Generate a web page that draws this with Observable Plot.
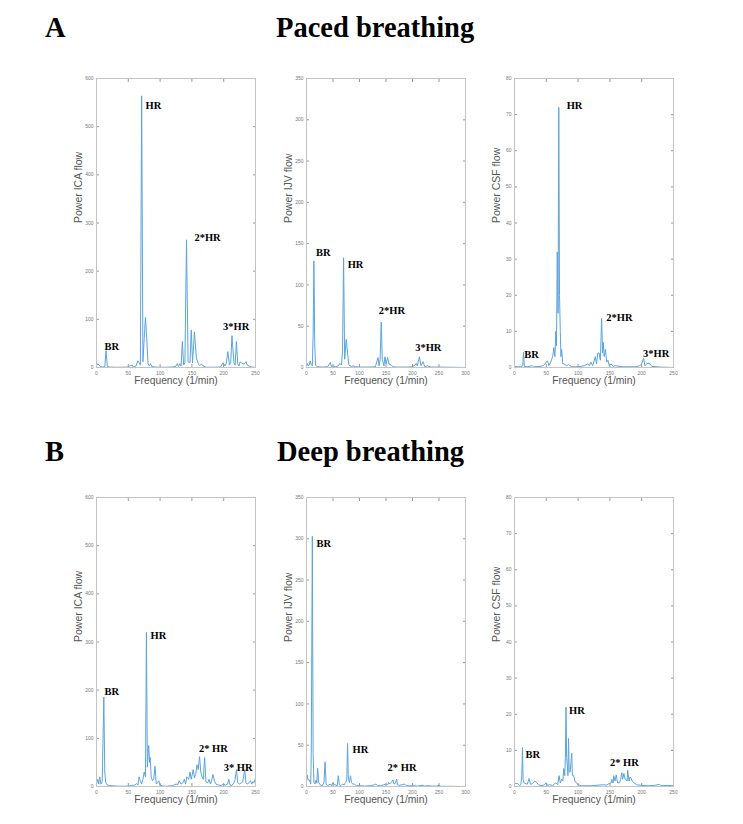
<!DOCTYPE html>
<html><head><meta charset="utf-8">
<script src="https://cdn.jsdelivr.net/npm/d3@7"></script>
<script src="https://cdn.jsdelivr.net/npm/@observablehq/plot@0.6"></script>
<style>
body{margin:0;background:#fff}
#root{position:relative;width:743px;height:824px;background:#fff;overflow:hidden}
.t{position:absolute;font-family:"Liberation Serif","Times New Roman",serif;font-weight:bold;font-size:28.5px;color:#000;white-space:nowrap;line-height:1}
.p{position:absolute}
</style></head><body><div id="root"></div>
<script>
// ---------- titles ----------
const rowLetters = ["A", "B"];
const rowTitles = ["Paced breathing", "Deep breathing"];

// ---------- axis settings ----------
const yLabels = ["Power ICA flow", "Power IJV flow", "Power CSF flow"];
const xLabel = "Frequency (1/min)";
const xTicks250 = [0, 50, 100, 150, 200, 250];
const xTicks300 = [0, 50, 100, 150, 200, 250, 300];
const yTicksICA = [0, 100, 200, 300, 400, 500, 600];
const yTicksIJV = [0, 50, 100, 150, 200, 250, 300, 350];
const yTicksCSF = [0, 10, 20, 30, 40, 50, 60, 70, 80];

// ---------- A: paced breathing ----------
const icaPacedFreq  = [0,2,4,6,10,13,15,17,20,30,40,50,53,56,58,62,65,67,69,71,73,75,77,79,81,83,85,87,95,110,120,125,127,129,131,133,135,137,139,141.5,144,147,149,151,154,157,160,162,165,168,172,185,195,199,202,204,206.5,209,211,213,216,218,220,222,224,226,229,232,235,237,240,244,250];
const icaPacedPower = [3,8,5,2,1,2,35,2,1,0.5,0.5,1,4,5,1,3,14,10,5,564,12,60,104,60,8,3,8,2,0.5,0.5,1,3,8,2,8,3,54,5,10,265,12,10,78,10,74,20,8,4,7,3,0.5,0.5,1,10,3,8,33,5,10,66,10,5,54,8,3,12,8,7,12,5,3,1,0];

const ijvPacedFreq  = [0,1,3,5,7,9,11,12.5,14,15.5,17,20,30,40,45,47,50,55,60,63,66,68,70,72,75,78,80,85,88,92,100,120,130,135,137,139,141,143,146,148,150,153,156,160,163,170,190,200,205,207,209,213,216,220,223,228,235,250,270,300];
const ijvPacedPower = [0,5,2,3,8,3,2,40,129,30,3,1,0.5,1,6,1,2,1,2,5,3,20,133,10,34,15,3,1,2,1,0.5,0.5,1,12,2,10,55,10,2,13,4,12,4,3,1,0.5,0.5,1,3,5,2,13,2,7,1,2,0.5,0.5,0.3,0];

const csfPacedFreq  = [0,5,10,13,14.2,15.5,20,28,30,40,45,48,50,52,54,57,60,62,63.5,65,66,67.2,68.5,69.6,70.8,72,73,74,76,78,82,85,90,100,110,115,118,120,123,127,129,131,133,135,137,138.5,139.5,141,143,145,147,149,152,155,158,170,190,197,200,203,205,208,210,213,216,230,250];
const csfPacedPower = [0.3,0.2,0.2,0.5,4.2,0.3,0.2,0.5,0.2,0.3,0.5,1,1.6,1.8,0.5,1.5,3,5.5,3,10,6,32,15,72,20,10,3,5,1,1,0.5,0.8,0.2,0.2,0.5,1,0.5,1.5,0.5,3,1,4,4,2,13.6,4,7,3,5,1.5,2,0.5,1,0.3,0.5,0.2,0.2,0.5,1,2.6,0.5,1,1.2,1,0.3,0.1,0];

// ---------- B: deep breathing ----------
const icaDeepFreq  = [0,2,3.5,5,7,9,11.5,13,14.5,17,20,30,40,50,55,60,63,65,67,69,71,73,75,77,78.5,80,82,83.5,84.5,86,88,90,92,94,96,98,100,104,110,120,125,128,130,133,136,138,140,142,145,147,149,152,154,156,158,160,162,164,166,168,170,172,175,177,179,181,183,186,188,192,196,200,203,206,208,210,213,216,218,220,222,225,228,230,233,235,237,240,242,244,246,248,250];
const icaDeepPower = [5,15,5,20,5,10,186,30,8,3,2,1,0.5,1,2,3,6,3,20,12,5,15,30,20,320,40,85,50,60,20,12,15,42,5,8,12,3,1,0.5,2,5,4,12,5,8,15,5,20,15,30,15,35,18,25,45,35,62,30,20,15,60,10,8,15,5,12,25,10,5,3,2,5,3,5,15,3,2,8,15,35,8,5,8,10,35,8,5,8,12,5,10,8,18];

const ijvDeepFreq  = [0,1,3,5,7,8,9,11,12.5,14,16,18,19.5,21,23,26,30,33,35,37,40,45,47,50,52,55,58,60,62,65,68,71,74,76,77.5,79,81,83,85,87,90,94,100,110,120,128,131,134,140,145,150,153,155,157,160,163,165,168,170,172,175,180,185,188,195,200,210,218,222,232,235,245,250,253,270,300];
const ijvDeepPower = [5,14,8,8,5,3,40,303,40,5,3,8,4,22,5,2,1,5,30,3,1,3,1,5,2,2,1,13,2,1,3,2,5,8,52,10,5,13,5,3,3,1,1,0.5,1,2,3,1,1,2,3,2,5,3,5,8,3,4,9,2,1.5,2,3,1,1,1,0.5,1.5,0.5,1,0.5,0.5,1.5,0.3,0.2,0];

const csfDeepFreq  = [0,2,5,8,10,11.5,12.5,13.5,15,18,20,23,25,28,32,35,38,40,45,50,52,55,60,65,68,70,72,74,76,77.5,79,80,81,82,83,84,85,86,87.5,89,90,91,93,95,97,100,105,120,140,145,150,152,153,155,156,158,160,162,165,167,168,169,170,172,174,175,177,178,180,181,183,185,188,192,200,210,220,228,230,240,250];
const csfDeepPower = [1,0.8,0.8,0.3,0.5,3,10.8,2,1,0.8,0.6,2.2,0.6,0.8,1.5,1,0.5,0.3,0.3,1,0.3,0.5,0.3,1,0.5,3,1,2,1.5,5,3,8,22,8,6,3,13.3,4,4,7,9.2,3,3,1.5,1,0.5,0.2,0.2,0.5,0.4,1,1,2,1,3,1.5,3.2,1,1,2,3.5,3.8,2,3.6,2,2,1.5,4.5,1.5,2.5,2.5,1.5,1,0.5,0.3,0.2,0.3,0.6,0.2,0.3,0.2];

// ---------- peak annotations (label, freq, power) ----------
const icaPacedNotes = {text: ["BR", "HR", "2*HR", "3*HR"], x: [12.6, 77, 154, 199], y: [44, 544, 270, 85]};
const ijvPacedNotes = {text: ["BR", "HR", "2*HR", "3*HR"], x: [17.7, 77.7, 136.5, 205], y: [139.6, 125, 69, 24]};
const csfPacedNotes = {text: ["BR", "HR", "2*HR", "3*HR"], x: [15.2, 82, 144.4, 202], y: [3.5, 72.4, 13.7, 3.9]};
const icaDeepNotes  = {text: ["BR", "HR", "2* HR", "3* HR"], x: [12.6, 85, 161, 200], y: [197.7, 313.5, 77.7, 40]};
const ijvDeepNotes  = {text: ["BR", "HR", "2* HR"], x: [19, 87, 153], y: [294.6, 45, 23]};
const csfDeepNotes  = {text: ["BR", "HR", "2* HR"], x: [17.4, 85.8, 150], y: [8.9, 21, 6.6]};

// ---------- layout ----------
const M = {left: 36, right: 10, top: 8, bottom: 32};
const FW = 159, FH = 289;
const colLeft = [96, 306, 514];
const rowTop = [78, 497];
const lineColor = "#5aa4de";

const panels = [
  {row: 0, col: 0, f: icaPacedFreq, p: icaPacedPower, notes: icaPacedNotes, xmax: 250, xt: xTicks250, ymax: 600, yt: yTicksICA, yl: yLabels[0]},
  {row: 0, col: 1, f: ijvPacedFreq, p: ijvPacedPower, notes: ijvPacedNotes, xmax: 300, xt: xTicks300, ymax: 350, yt: yTicksIJV, yl: yLabels[1]},
  {row: 0, col: 2, f: csfPacedFreq, p: csfPacedPower, notes: csfPacedNotes, xmax: 250, xt: xTicks250, ymax: 80, yt: yTicksCSF, yl: yLabels[2]},
  {row: 1, col: 0, f: icaDeepFreq, p: icaDeepPower, notes: icaDeepNotes, xmax: 250, xt: xTicks250, ymax: 600, yt: yTicksICA, yl: yLabels[0]},
  {row: 1, col: 1, f: ijvDeepFreq, p: ijvDeepPower, notes: ijvDeepNotes, xmax: 300, xt: xTicks300, ymax: 350, yt: yTicksIJV, yl: yLabels[1]},
  {row: 1, col: 2, f: csfDeepFreq, p: csfDeepPower, notes: csfDeepNotes, xmax: 250, xt: xTicks250, ymax: 80, yt: yTicksCSF, yl: yLabels[2]}
];

const root = document.getElementById("root");

// titles
const titleLayout = [{letterLeft: 45, titleLeft: 276, top: 13.6}, {letterLeft: 45, titleLeft: 277, top: 437.8}];
rowLetters.forEach((L, i) => {
  const a = document.createElement("div");
  a.className = "t"; a.textContent = L;
  a.style.left = titleLayout[i].letterLeft + "px"; a.style.top = titleLayout[i].top + "px";
  root.appendChild(a);
  const b = document.createElement("div");
  b.className = "t"; b.textContent = rowTitles[i];
  b.style.left = titleLayout[i].titleLeft + "px"; b.style.top = titleLayout[i].top + "px";
  root.appendChild(b);
});

for (const pn of panels) {
  const pts = pn.f.map((f, i) => ({f, p: pn.p[i]}));
  const notes = pn.notes.text.map((t, i) => ({t, x: pn.notes.x[i], y: pn.notes.y[i]}));
  const chart = Plot.plot({
    width: M.left + FW + M.right,
    height: M.top + FH + M.bottom,
    marginLeft: M.left, marginRight: M.right, marginTop: M.top, marginBottom: M.bottom,
    style: {background: "transparent", fontFamily: "'Liberation Sans', Arial, sans-serif", overflow: "visible"},
    x: {domain: [0, pn.xmax]},
    y: {domain: [0, pn.ymax]},
    marks: [
      Plot.axisX({ticks: pn.xt, tickSize: -3, tickPadding: 7, fontSize: 5, stroke: "#999", fill: "#777", label: null}),
      Plot.axisX({anchor: "top", ticks: pn.xt, tickSize: -3, tickFormat: () => "", stroke: "#999", label: null}),
      Plot.axisY({ticks: pn.yt, tickSize: -3, tickPadding: 6, fontSize: 5, stroke: "#999", fill: "#777", label: null}),
      Plot.axisY({anchor: "right", ticks: pn.yt, tickSize: -3, tickFormat: () => "", stroke: "#999", label: null}),
      Plot.line(pts, {x: "f", y: "p", stroke: lineColor, strokeWidth: 1}),
      Plot.frame({stroke: "#c4c4c4"}),
      Plot.text([xLabel], {frameAnchor: "bottom", dy: 16, fontSize: 10.3, fill: "#555"}),
      Plot.text([pn.yl], {frameAnchor: "left", dx: -18, rotate: -90, fontSize: 10.5, fill: "#555"}),
      Plot.text(notes, {x: "x", y: "y", text: "t", textAnchor: "start", fontFamily: "'Liberation Serif', 'Times New Roman', serif", fontWeight: "bold", fontSize: 10.5, fill: "#000"})
    ]
  });
  const wrap = document.createElement("div");
  wrap.className = "p";
  wrap.style.left = (colLeft[pn.col] - M.left) + "px";
  wrap.style.top = (rowTop[pn.row] - M.top) + "px";
  wrap.appendChild(chart);
  root.appendChild(wrap);
}
</script>
</body></html>
